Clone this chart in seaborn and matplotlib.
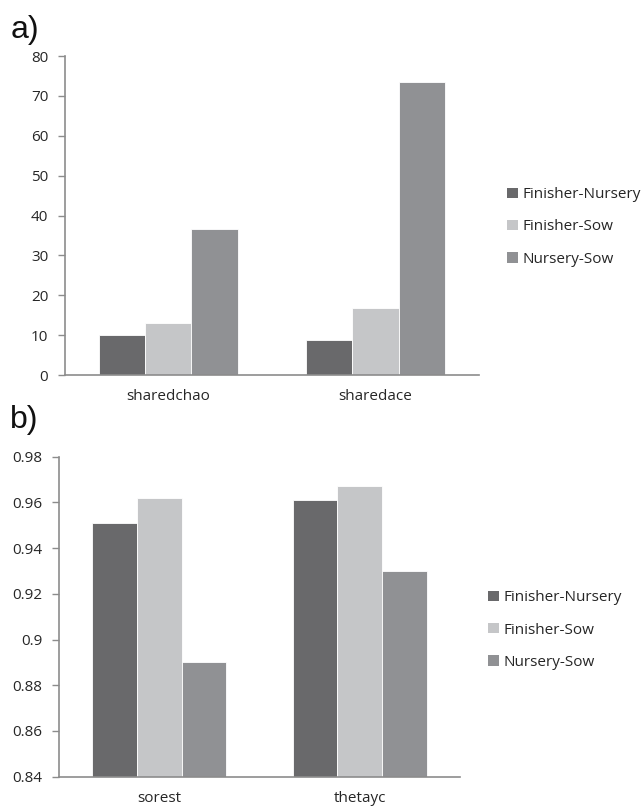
import pandas as pd
import seaborn as sns
import matplotlib
import matplotlib.pyplot as plt
from matplotlib.patches import Patch

matplotlib.use('Agg')

# Values
groups = ['Finisher-Nursery', 'Finisher-Sow', 'Nursery-Sow']
colors = ['#69696b', '#c5c6c8', '#909194']

cats_a = ['sharedchao', 'sharedace']
vals_a = {'Finisher-Nursery': [10.0, 8.9],
          'Finisher-Sow': [13.0, 16.9],
          'Nursery-Sow': [36.6, 73.4]}

cats_b = ['sorest', 'thetayc']
vals_b = {'Finisher-Nursery': [0.951, 0.961],
          'Finisher-Sow': [0.962, 0.967],
          'Nursery-Sow': [0.890, 0.930]}


def to_long(cats, vals):
    rows = []
    for g in groups:
        for c, v in zip(cats, vals[g]):
            rows.append({'cat': c, 'group': g, 'value': v})
    return pd.DataFrame(rows)


sns.set_style('white')
plt.rcParams['font.family'] = ['Open Sans', 'DejaVu Sans']

fig = plt.figure(figsize=(6.43, 8.06), dpi=100)
ax_a = fig.add_axes([0.101, 0.5347, 0.644, 0.3958])
ax_b = fig.add_axes([0.0918, 0.0364, 0.6236, 0.397])

axis_col = '#8c8c8c'
text_col = '#262626'


def draw(ax, cats, vals, ylim, yticks, yfmt, legend_pos):
    df = to_long(cats, vals)
    sns.barplot(data=df, x='cat', y='value', hue='group', hue_order=groups,
                palette=colors, width=0.667, saturation=1, ax=ax,
                edgecolor='white', linewidth=0.6, legend=False)
    ax.set_ylim(*ylim)
    ax.set_xlim(-0.5, 1.5)
    ax.set_yticks(yticks)
    ax.set_yticklabels([yfmt(t) for t in yticks], fontsize=11, color=text_col)
    ax.set_xticks([0, 1])
    ax.set_xticklabels(cats, fontsize=11, color=text_col)
    ax.set_xticks([-0.5, 0.5, 1.5], minor=True)
    ax.tick_params(axis='x', which='major', length=0, pad=10)
    ax.tick_params(axis='x', which='minor', length=5, color=axis_col, width=1)
    ax.tick_params(axis='y', length=5, color=axis_col, width=1, pad=7,
                   left=True)
    ax.set_xlabel('')
    ax.set_ylabel('')
    for s in ['top', 'right']:
        ax.spines[s].set_visible(False)
    for s in ['left', 'bottom']:
        ax.spines[s].set_color(axis_col)
        ax.spines[s].set_linewidth(1.2)
    handles = [Patch(facecolor=c, edgecolor='none', label=g)
               for g, c in zip(groups, colors)]
    leg = fig.legend(handles=handles, loc='center left',
                     bbox_to_anchor=legend_pos, frameon=False, fontsize=11,
                     handlelength=0.69, handleheight=0.69, handletextpad=0.3,
                     labelspacing=1.12, borderaxespad=0, borderpad=0)
    for t in leg.get_texts():
        t.set_color(text_col)


draw(ax_a, cats_a, vals_a, (0, 80), list(range(0, 81, 10)),
     lambda t: f'{t:d}', (507 / 643, 1 - 227 / 806))
draw(ax_b, cats_b, vals_b, (0.84, 0.98),
     [0.84, 0.86, 0.88, 0.90, 0.92, 0.94, 0.96, 0.98],
     lambda t: f'{t:g}', (488 / 643, 1 - 630 / 806))

fig.text(0.016, 1 - 30 / 806, 'a)', fontsize=23, family='Liberation Sans',
         va='center', ha='left', color='#111111')
fig.text(0.016, 1 - 420 / 806, 'b)', fontsize=23, family='Liberation Sans',
         va='center', ha='left', color='#111111')

fig.savefig('out.png', dpi=100)
